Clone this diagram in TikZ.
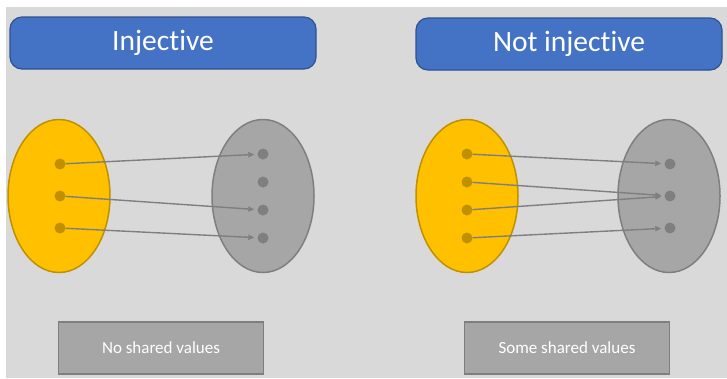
\documentclass[tikz,border=0pt]{standalone}
\usepackage{fontspec}
\setmainfont{Carlito}[Ligatures={NoCommon}]
\usepackage{tikz}
\usetikzlibrary{shapes.geometric}
\usetikzlibrary{arrows.meta}

\definecolor{fondo}{HTML}{D9D9D9}
\definecolor{azul}{HTML}{4472C4}
\definecolor{azulborde}{HTML}{2F528F}
\definecolor{amarillo}{HTML}{FFC000}
\definecolor{oro}{HTML}{BF9000}
\definecolor{gris}{HTML}{A6A6A6}
\definecolor{grisborde}{HTML}{7F7F7F}

\begin{document}
\begin{tikzpicture}[x=1pt, y=-1pt,
    titulo/.style={draw=azulborde, line width=1.2pt, fill=azul, rounded corners=12pt,
      minimum width=306pt, minimum height=52pt, text=white, font=\fontsize{29.5}{31}\selectfont},
    dominio/.style={draw=oro, line width=1.5pt, fill=amarillo, ellipse, minimum width=102pt, minimum height=153pt},
    codominio/.style={draw=grisborde, line width=1.5pt, fill=gris, ellipse, minimum width=102pt, minimum height=153pt},
    puntoA/.style={circle, fill=oro, inner sep=0pt, minimum size=11pt},
    puntoB/.style={circle, fill=grisborde, inner sep=0pt, minimum size=11pt},
    flecha/.style={-{Triangle[length=6pt,width=5pt]}, draw=grisborde, line width=1.4pt, shorten >=3pt},
    etiqueta/.style={draw=grisborde, line width=1.2pt, fill=gris, minimum width=205pt,
      minimum height=52pt, text=white, font=\fontsize{17}{19}\selectfont}]
  % Fondo
  \useasboundingbox (0,0) rectangle (727,378);
  \fill[white] (0,0) rectangle (727,378);
  \fill[fondo] (6,7) rectangle (727,378);

  % Titulos
  \node[titulo] (t1) at (163,43) {Injective};
  \node[titulo] (t2) at (569,44) {Not injective};

  % Conjuntos
  \node[dominio] (A1) at (59,196) {};
  \node[codominio] (B1) at (263,196) {};
  \node[dominio] (A2) at (467,196) {};
  \node[codominio] (B2) at (669,196) {};

  % Puntos
  \node[puntoA] (a1) at (60,164) {};
  \node[puntoA] (a2) at (60,196) {};
  \node[puntoA] (a3) at (60,228) {};
  \node[puntoB] (b1) at (263,154) {};
  \node[puntoB] (b2) at (263,182) {};
  \node[puntoB] (b3) at (263,210) {};
  \node[puntoB] (b4) at (263,238) {};

  \node[puntoA] (c1) at (467,154) {};
  \node[puntoA] (c2) at (467,182) {};
  \node[puntoA] (c3) at (467,210) {};
  \node[puntoA] (c4) at (467,238) {};
  \node[puntoB] (d1) at (670,164) {};
  \node[puntoB] (d2) at (670,196) {};
  \node[puntoB] (d3) at (670,228) {};

  % Flechas
  \draw[flecha] (a1) -- (b1);
  \draw[flecha] (a2) -- (b3);
  \draw[flecha] (a3) -- (b4);
  \draw[flecha] (c1) -- (d1);
  \draw[flecha] (c2) -- (d2);
  \draw[flecha] (c3) -- (d2);
  \draw[flecha] (c4) -- (d3);

  % Etiquetas
  \node[etiqueta] (e1) at (161,348) {No shared values};
  \node[etiqueta] (e2) at (567,348) {Some shared values};
\end{tikzpicture}
\end{document}
